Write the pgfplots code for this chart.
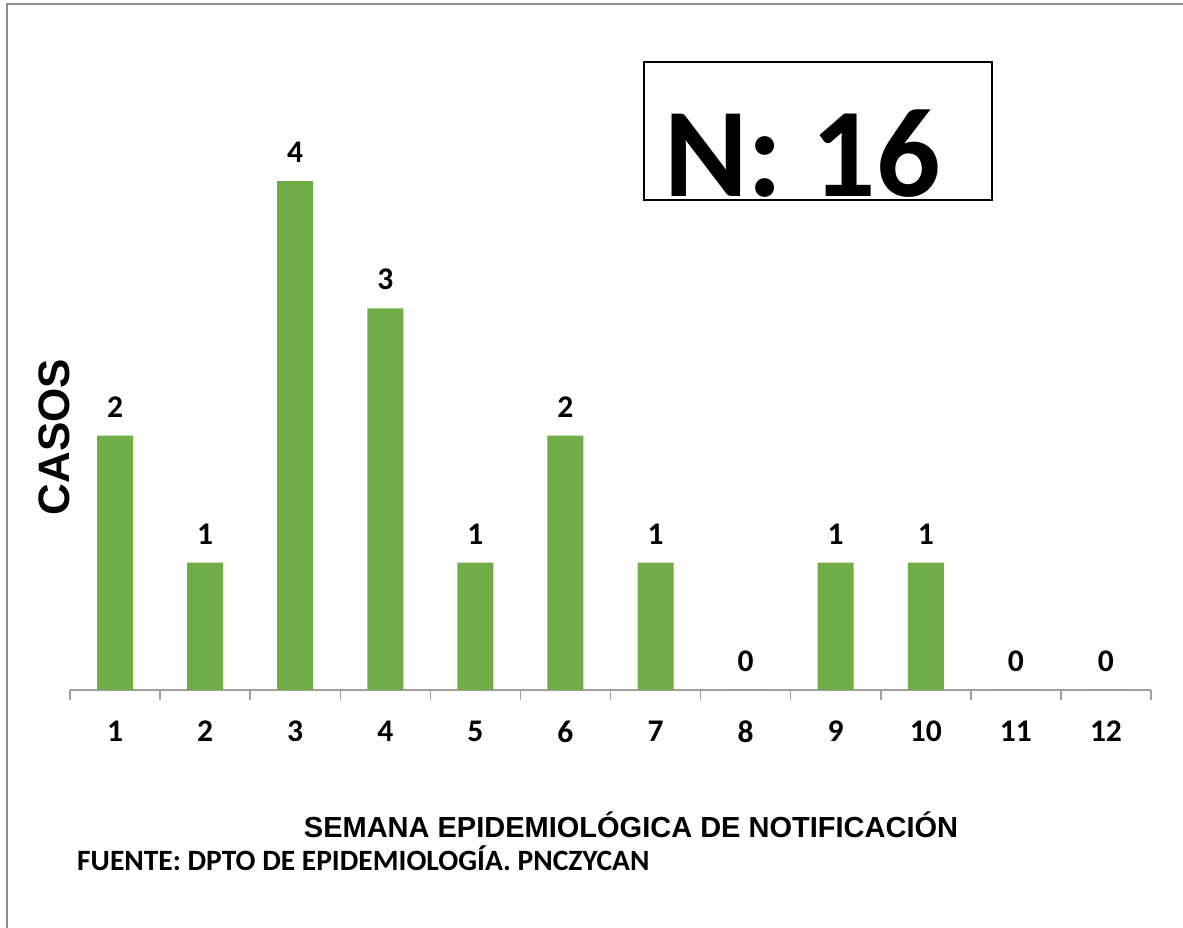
\documentclass[border=0pt]{standalone}
\usepackage{pgfplots}
\pgfplotsset{compat=1.18}
\usepackage{fontspec}
\setmainfont{Carlito}
\newfontfamily\carlito{Carlito}
\newfontfamily\arialf{Liberation Sans}
\definecolor{barg}{RGB}{112,173,71}
\definecolor{axg}{RGB}{160,160,160}
\definecolor{frameg}{RGB}{140,140,140}
\begin{document}
\begin{tikzpicture}[x=1pt,y=1pt]
\path[use as bounding box] (0,0) rectangle (1183,928);
\draw[frameg, line width=1.5pt] (7,0) -- (7,924) -- (1183,924);
\begin{axis}[
  at={(70pt,238pt)}, anchor=south west,
  scale only axis, width=1081pt, height=572.6pt,
  xmin=0.5, xmax=12.5, ymin=0, ymax=4.5,
  axis x line*=bottom, axis y line=none,
  axis line style={axg, line width=1.5pt, -},
  xtick={1,2,3,4,5,6,7,8,9,10,11,12},
  xticklabels={1,2,3,4,5,6,7,8,9,10,11,12},
  major tick length=0pt,
  minor xtick={0.5,1.5,2.5,3.5,4.5,5.5,6.5,7.5,8.5,9.5,10.5,11.5,12.5},
  minor tick length=10pt,
  tick align=outside,
  minor tick style={axg, line width=1.5pt},
  xticklabel style={font=\carlito\bfseries\fontsize{31.5pt}{38pt}\selectfont, anchor=north, inner sep=0pt, yshift=-31pt},
  clip=false,
  nodes near coords,
  every node near coord/.append style={font=\carlito\bfseries\fontsize{31.5pt}{38pt}\selectfont, anchor=south, inner sep=0pt, yshift=18pt, text=black},
  /pgf/number format/assume math mode=true,
]
\addplot[ybar, fill=barg, draw=none, bar width=36pt] coordinates {
  (1,2) (2,1) (3,4) (4,3) (5,1) (6,2) (7,1) (8,0) (9,1) (10,1) (11,0) (12,0)
};
\end{axis}
\node[rotate=90, font=\arialf\bfseries\fontsize{44pt}{53pt}\selectfont, inner sep=0pt] at (54,491) {CASOS};
\node[font=\arialf\bfseries\fontsize{29pt}{35pt}\selectfont, inner sep=0pt, anchor=base] at (631,90) {SEMANA EPIDEMIOLÓGICA DE NOTIFICACIÓN};
\node[font=\carlito\bfseries\fontsize{29.5pt}{35pt}\selectfont, inner sep=0pt, anchor=base west] at (77,57) {FUENTE: DPTO DE EPIDEMIOLOGÍA. PNCZYCAN};
\draw[black, line width=2pt] (644,728) rectangle (992,866);
\node[font=\carlito\bfseries\fontsize{127pt}{140pt}\selectfont, inner sep=0pt, anchor=base west] at (664,731) {N: 16};
\end{tikzpicture}
\end{document}
